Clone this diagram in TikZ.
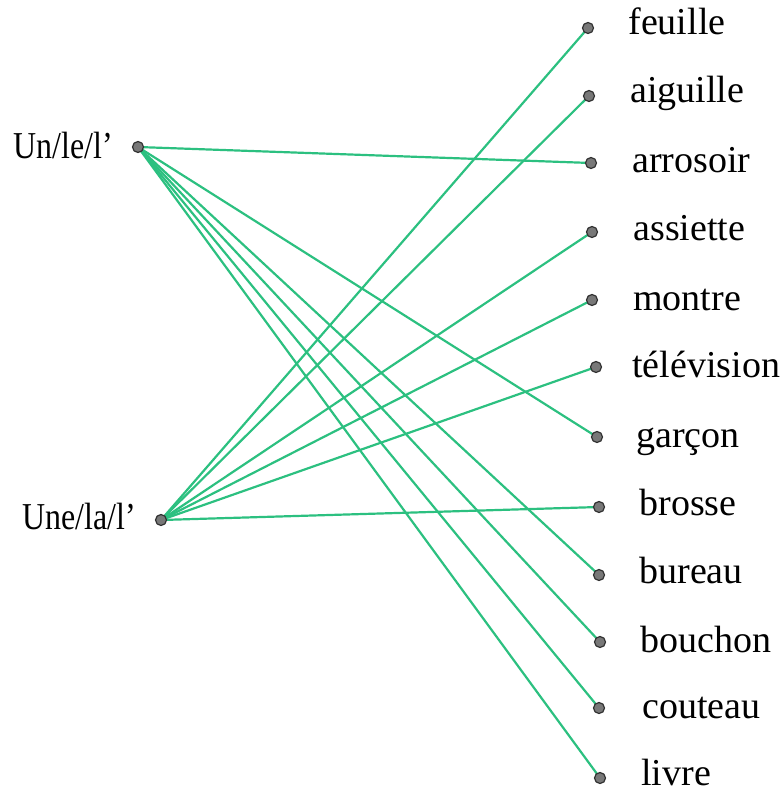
\documentclass[tikz,border=0pt]{standalone}
\usepackage{graphicx}
\usepackage{fontspec}
\setmainfont{Liberation Serif}
\pgfdeclarelayer{bg}
\pgfsetlayers{bg,main}
\definecolor{linegreen}{RGB}{44,192,128}
\definecolor{dotfill}{RGB}{120,120,120}
\definecolor{dotdraw}{RGB}{50,50,50}
\newcommand{\narrowtxt}[1]{\scalebox{0.84}[1]{#1}}
\begin{document}
\begin{tikzpicture}[x=0.5pt,y=-0.5pt,
  dot/.style={circle,fill=dotfill,draw=dotdraw,line width=0.6pt,inner sep=0pt,minimum size=5.5pt},
  word/.style={anchor=base west,inner sep=0pt,font=\fontsize{19}{22}\selectfont},
  lword/.style={anchor=base west,inner sep=0pt,font=\fontsize{19}{22}\selectfont},
  link/.style={draw=linegreen,line width=1.1pt}]
\useasboundingbox (0,0) rectangle (783,791);
% left
\node[dot] (un) at (138,147) {};
\node[lword] (unlabel) at (13,159) {\narrowtxt{Un/le/l’}};
\node[dot] (une) at (161,520) {};
\node[lword] (unelabel) at (22,529) {\narrowtxt{Une/la/l’}};
% right dots
\node[dot] (d1) at (588,28) {};
\node[dot] (d2) at (589,96) {};
\node[dot] (d3) at (591,163) {};
\node[dot] (d4) at (592,232) {};
\node[dot] (d5) at (592,300) {};
\node[dot] (d6) at (596,367) {};
\node[dot] (d7) at (597,437) {};
\node[dot] (d8) at (599,507) {};
\node[dot] (d9) at (599,575) {};
\node[dot] (d10) at (600,642) {};
\node[dot] (d11) at (599,708) {};
\node[dot] (d12) at (600,778) {};
% words
\node[word] (w1) at (628,35) {feuille};
\node[word] (w2) at (630,103) {aiguille};
\node[word] (w3) at (632,173) {arrosoir};
\node[word] (w4) at (633,240) {assiette};
\node[word] (w5) at (633,310) {montre};
\node[word] (w6) at (632,377) {télévision};
\node[word] (w7) at (636,447) {garçon};
\node[word] (w8) at (639,515) {brosse};
\node[word] (w9) at (639,583) {bureau};
\node[word] (w10) at (640,652) {bouchon};
\node[word] (w11) at (642,718) {couteau};
\node[word] (w12) at (641,785) {livre};
\begin{pgfonlayer}{bg}
\foreach \t in {d3,d7,d9,d10,d11,d12} \draw[link] (un.center) -- (\t.center);
\foreach \t in {d1,d2,d4,d5,d6,d8} \draw[link] (une.center) -- (\t.center);
\end{pgfonlayer}
\end{tikzpicture}
\end{document}
